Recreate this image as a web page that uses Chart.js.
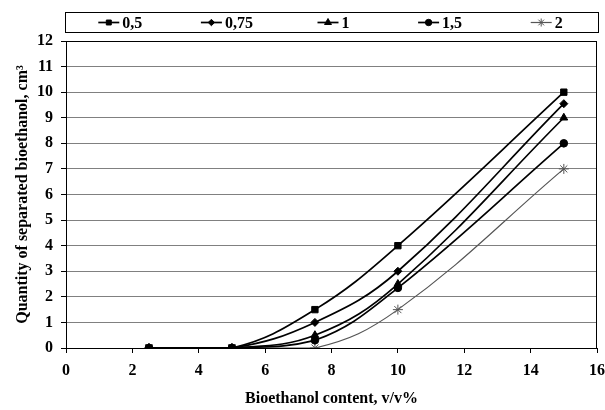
<!DOCTYPE html>
<html>
<head>
<meta charset="utf-8">
<script src="https://cdn.jsdelivr.net/npm/chart.js@4"></script>
<style>
  body { margin: 0; background: #fff; }
  #wrap { width: 605px; height: 410px; }
</style>
</head>
<body>
<div id="wrap"><canvas id="sepChart" width="605" height="410"></canvas></div>
<script>
// bioethanol content, v/v%
const content = [2.5, 5, 7.5, 10, 15];
const seriesNames = ['0,5', '0,75', '1', '1,5', '2'];
const s05 = [0, 0, 1.5, 4, 10];
const s075 = [0, 0, 1, 3, 9.55];
const s1 = [0, 0, 0.5, 2.5, 9];
const s15 = [0, 0, 0.3, 2.35, 8];
const s2 = [0, 0, 0, 1.5, 7];
const xTicks = [0, 2, 4, 6, 8, 10, 12, 14, 16];
const yTicks = [0, 1, 2, 3, 4, 5, 6, 7, 8, 9, 10, 11, 12];

const FONT = "'Liberation Serif', 'Times New Roman', serif";

const styles = [
  { pointStyle: 'rect', radius: 4.5, legendR: 3.5, color: '#000', width: 1.7 },
  { pointStyle: 'rectRot', radius: 4, legendR: 3.2, color: '#000', width: 1.7 },
  { pointStyle: 'triangle', radius: 4.5, legendR: 4, color: '#000', width: 1.7 },
  { pointStyle: 'circle', radius: 3.8, legendR: 3.2, color: '#000', width: 1.7 },
  { pointStyle: 'star', radius: 5, legendR: 4, color: '#555', width: 1.2 }
];

function pts(vals) {
  return content.map((x, i) => ({ x: x, y: vals[i] }));
}

const datasets = [s05, s075, s1, s15, s2].map((vals, i) => ({
  label: seriesNames[i],
  data: pts(vals),
  borderColor: styles[i].color,
  backgroundColor: styles[i].color,
  borderWidth: styles[i].width,
  pointStyle: styles[i].pointStyle,
  pointRadius: styles[i].radius,
  pointBorderWidth: 1,
  tension: 0.4,
  fill: false
}));

// legend in a framed box, items spread evenly; also frame the plot area
const boxLegend = {
  id: 'boxLegend',
  afterDraw(chart) {
    const ctx = chart.ctx;
    const left = 65, right = 598, top = 12, bottom = 32;
    ctx.save();
    ctx.strokeStyle = '#000';
    ctx.lineWidth = 1;
    ctx.strokeRect(left + 0.5, top + 0.5, right - left, bottom - top);
    ctx.font = 'bold 16px ' + FONT;
    ctx.textBaseline = 'middle';
    const n = chart.data.datasets.length;
    const step = (right - left) / n;
    const cy = (top + bottom) / 2 + 0.5;
    chart.data.datasets.forEach((ds, i) => {
      const lineLen = 21, gap = 3;
      const w = lineLen + gap + ctx.measureText(ds.label).width;
      const x0 = left + step * (i + 0.5) - w / 2 + 2;
      ctx.strokeStyle = ds.borderColor;
      ctx.fillStyle = ds.borderColor;
      ctx.lineWidth = ds.borderWidth;
      ctx.beginPath();
      ctx.moveTo(x0, cy);
      ctx.lineTo(x0 + lineLen, cy);
      ctx.stroke();
      ctx.lineWidth = 1;
      Chart.helpers.drawPoint(ctx, {
        pointStyle: ds.pointStyle,
        radius: styles[i].legendR,
        rotation: 0,
        borderWidth: 1
      }, x0 + lineLen / 2, cy);
      ctx.fillStyle = '#000';
      ctx.fillText(ds.label, x0 + lineLen + gap, cy + 1);
    });
    const a = chart.chartArea;
    ctx.strokeStyle = '#000';
    ctx.lineWidth = 1;
    ctx.strokeRect(Math.round(a.left) + 0.5, Math.round(a.top) + 0.5,
      Math.round(a.right - a.left) - 1, Math.round(a.bottom - a.top));
    ctx.restore();
  }
};

Chart.defaults.color = '#000';

new Chart(document.getElementById('sepChart').getContext('2d'), {
  type: 'line',
  data: { datasets: datasets },
  options: {
    responsive: false,
    animation: false,
    layout: { padding: { top: 41, right: 8, left: 4, bottom: 0 } },
    plugins: {
      legend: { display: false },
      tooltip: { enabled: false }
    },
    scales: {
      x: {
        type: 'linear',
        min: 0,
        max: 16,
        afterBuildTicks(axis) { axis.ticks = xTicks.map(v => ({ value: v })); },
        afterFit(axis) { axis.paddingLeft = 0; axis.paddingRight = 0; axis.height = 62; },
        grid: { drawOnChartArea: false, tickLength: 5, color: '#000', tickColor: '#000' },
        border: { color: '#000', width: 1 },
        ticks: { font: { family: FONT, size: 16, weight: 'bold' }, padding: 8, maxRotation: 0 },
        title: {
          display: true,
          text: 'Bioethanol content, v/v%',
          font: { family: FONT, size: 16, weight: 'bold' },
          padding: { top: 0, bottom: 2 }
        }
      },
      y: {
        min: 0,
        max: 12,
        afterBuildTicks(axis) { axis.ticks = yTicks.map(v => ({ value: v })); },
        afterFit(axis) { axis.paddingTop = 0; axis.paddingBottom = 0; axis.width = 62; },
        grid: { color: '#808080', lineWidth: 1, tickLength: 5, tickColor: '#000' },
        border: { color: '#000', width: 1 },
        ticks: { font: { family: FONT, size: 16, weight: 'bold' }, padding: 8 },
        title: {
          display: true,
          text: 'Quantity of separated bioethanol, cm\u00B3',
          font: { family: FONT, size: 16, weight: 'bold' },
          padding: { top: 9, bottom: 0 }
        }
      }
    }
  },
  plugins: [boxLegend]
});
</script>
</body>
</html>
